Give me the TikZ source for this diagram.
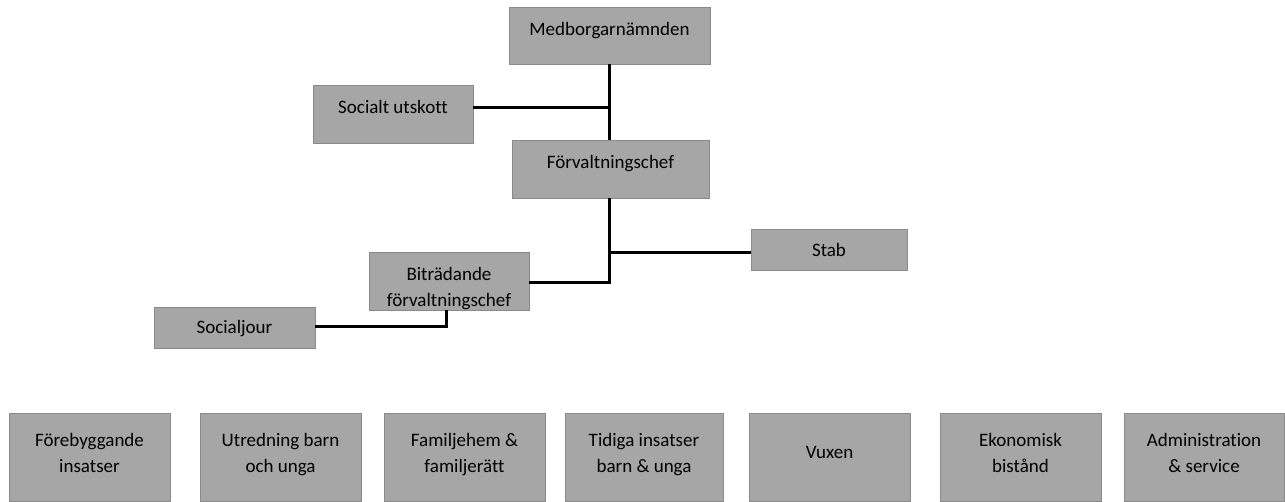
\documentclass[tikz,border=0pt]{standalone}
\usepackage{fontspec}
\setmainfont{Carlito}[Ligatures=NoCommon]
\definecolor{boxfill}{HTML}{A6A6A6}
\definecolor{boxline}{HTML}{8A8A8A}
\begin{document}
\begin{tikzpicture}[x=1pt,y=-1pt,
  box/.style={draw=boxline,fill=boxfill,line width=1pt,rectangle,inner sep=0pt,outer sep=0pt,anchor=north west},
  lbl/.style={align=center,inner sep=0pt,font=\fontsize{19}{26}\selectfont},
  conn/.style={line width=3pt,black}]
\useasboundingbox (0,0) rectangle (1285,501);
% top part
\node[box,minimum width=201pt,minimum height=57pt] (med) at (509,7) {};
\node[lbl] (medt) at (609.5,30) {\strut Medborgarnämnden};
\node[box,minimum width=160pt,minimum height=58pt] (soc) at (313,85) {};
\node[lbl] (soct) at (393,108) {\strut Socialt utskott};
\node[box,minimum width=197pt,minimum height=58pt] (forv) at (512,140) {};
\node[lbl] (forvt) at (610.5,163) {\strut Förvaltningschef};
\node[box,minimum width=156pt,minimum height=41pt] (stab) at (751,229) {};
\node[lbl] (stabt) at (829,251) {\strut Stab};
\node[box,minimum width=160pt,minimum height=58pt] (bit) at (369,252) {};
\node[lbl] (bitt) at (449,288) {\strut Biträdande\\\strut förvaltningschef};
\node[box,minimum width=161pt,minimum height=41pt] (socj) at (154,307) {};
\node[lbl] (socjt) at (234.5,328) {\strut Socialjour};
% bottom row
\node[box,minimum width=161pt,minimum height=88pt] (b1) at (9,413) {};
\node[lbl] (b1t) at (89.5,454) {\strut Förebyggande\\\strut insatser};
\node[box,minimum width=161pt,minimum height=88pt] (b2) at (200,413) {};
\node[lbl] (b2t) at (280.5,454) {\strut Utredning barn\\\strut och unga};
\node[box,minimum width=161pt,minimum height=88pt] (b3) at (384,413) {};
\node[lbl] (b3t) at (464.5,454) {\strut Familjehem \&\\\strut familjerätt};
\node[box,minimum width=158pt,minimum height=88pt] (b4) at (565,413) {};
\node[lbl] (b4t) at (644,454) {\strut Tidiga insatser\\\strut barn \& unga};
\node[box,minimum width=161pt,minimum height=88pt] (b5) at (749,413) {};
\node[lbl] (b5t) at (829.5,453) {\strut Vuxen};
\node[box,minimum width=161pt,minimum height=88pt] (b6) at (940,413) {};
\node[lbl] (b6t) at (1020.5,454) {\strut Ekonomisk\\\strut bistånd};
\node[box,minimum width=160pt,minimum height=88pt] (b7) at (1124,413) {};
\node[lbl] (b7t) at (1204,454) {\strut Administration\\\strut \& service};
% connectors
\coordinate (j1) at (609,107);
\coordinate (j2) at (609,252);
\coordinate (j3) at (609,282);
\coordinate (j4) at (446,326);
\draw[conn] (med.south -| j1) -- (forv.north -| j1);
\draw[conn] (soc.east |- j1) -- (j1);
\draw[conn] (forv.south -| j1) -- (j3) -- (bit.east |- j3);
\draw[conn] (j2) -- (stab.west |- j2);
\draw[conn] (socj.east |- j4) -- (j4) -- (bit.south -| j4);
\end{tikzpicture}
\end{document}
